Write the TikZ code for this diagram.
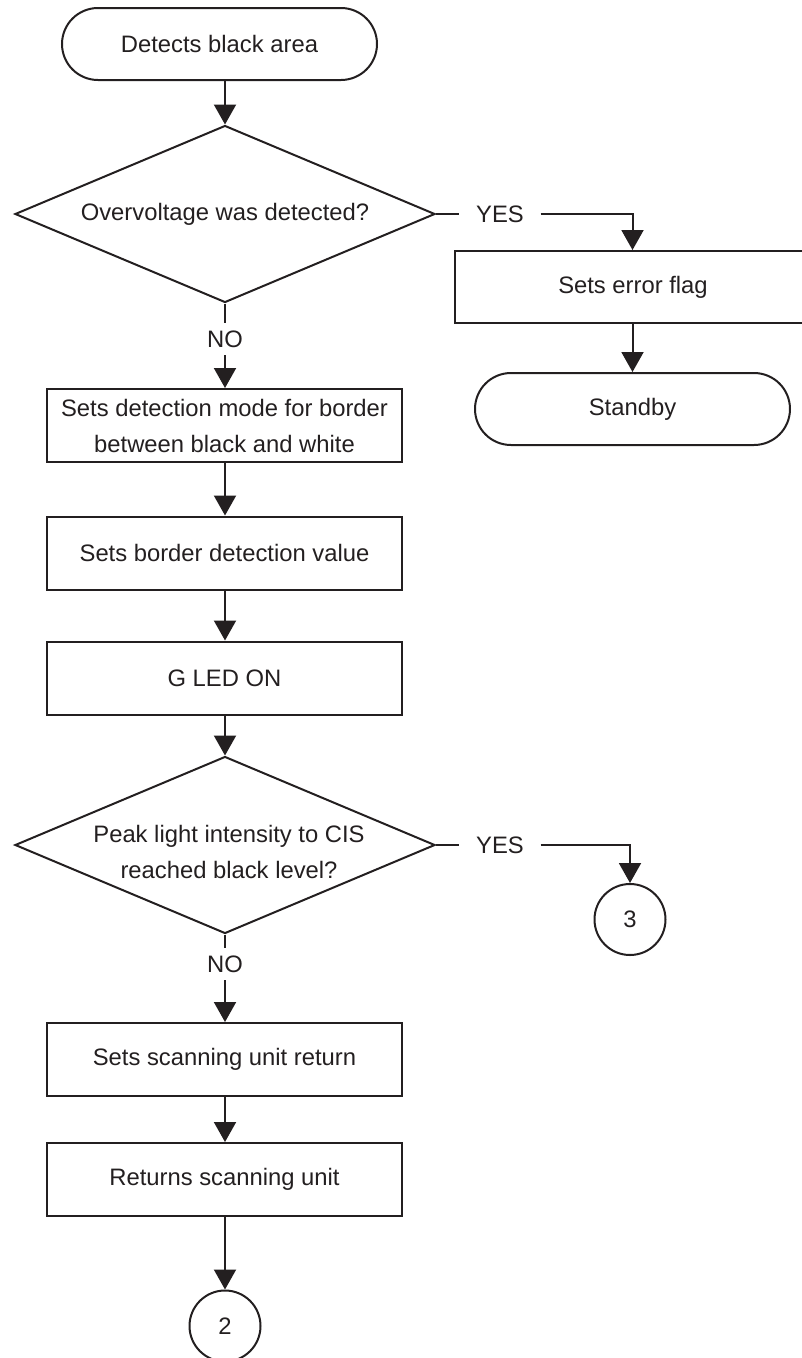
\documentclass[tikz,border=0pt]{standalone}
\usepackage{fontspec}
\setmainfont{Liberation Sans}
\usetikzlibrary{shapes.geometric,shapes.misc,arrows.meta}
\definecolor{ink}{HTML}{231F20}
\tikzset{
  base/.style={draw=ink, line width=2pt, text=ink, font=\fontsize{23.8}{36}\selectfont, align=center, inner sep=0pt},
  proc/.style={base, rectangle, minimum width=355pt, minimum height=73pt},
  term/.style={base, rounded rectangle, minimum width=315pt, minimum height=72pt},
  decision/.style={base, diamond, aspect=2.386, minimum width=420pt, minimum height=177pt},
  conn/.style={base, circle, minimum size=71pt},
  lbl/.style={text=ink, font=\fontsize{23.8}{36}\selectfont, inner xsep=16.5pt, inner ysep=7.5pt, text height=17pt, text depth=0pt},
  plain/.style={text=ink, font=\fontsize{23.8}{36}\selectfont, align=center, inner sep=0pt},
  arr/.style={draw=ink, line width=2pt, -{Triangle[length=20pt,width=22pt]}},
  ln/.style={draw=ink, line width=2pt}
}
\begin{document}
\begin{tikzpicture}[x=1pt,y=-1pt]
\useasboundingbox (0,0) rectangle (802,1358);
\clip (0,0) rectangle (802,1358);
% nodes
\node[term] (t1) at (219.5,44) {Detects black area};
\node[decision] (d1) at (225,214) {Overvoltage was detected?};
\node[lbl] (yes1) at (500,214) {YES};
\node[proc, minimum width=356pt, minimum height=72pt] (err) at (633,287) {Sets error flag};
\node[term] (sb) at (632.5,409) {Standby};
\node[lbl] (no1) at (225,339) {NO};
\node[proc] (b1) at (224.5,425.5) {Sets detection mode for border\\between black and white};
\node[proc] (b2) at (224.5,553) {Sets border detection value};
\node[proc] (b3) at (224.5,678) {G LED ON};
\node[decision] (d2) at (225,845) {};
\node[plain] (d2t) at (229,852) {Peak light intensity to CIS\\reached black level?};
\node[lbl] (yes2) at (500,845) {YES};
\node[conn] (c3) at (630,919.5) {3};
\node[lbl] (no2) at (225,964) {NO};
\node[proc] (b4) at (224.5,1059.5) {Sets scanning unit return};
\node[proc] (b5) at (224.5,1179.5) {Returns scanning unit};
\node[conn] (c2) at (225,1326) {2};
% connectors
\draw[arr] (t1.south -| d1.north) -- (d1.north);
\draw[ln] (d1.east) -- (yes1.west);
\draw[arr] (yes1.east) -| (sb.north |- err.north);
\draw[arr] (sb.north |- err.south) -- (sb.north);
\draw[ln] (d1.south) -- (no1.north);
\draw[arr] (no1.south) -- (no1.south |- b1.north);
\draw[arr] (b1.south -| no1.south) -- (b2.north -| no1.south);
\draw[arr] (b2.south -| no1.south) -- (b3.north -| no1.south);
\draw[arr] (b3.south -| no1.south) -- (d2.north -| no1.south);
\draw[ln] (d2.east) -- (yes2.west);
\draw[arr] (yes2.east) -| (c3.north);
\draw[ln] (d2.south -| no2.north) -- (no2.north);
\draw[arr] (no2.south) -- (no2.south |- b4.north);
\draw[arr] (b4.south -| no2.south) -- (b5.north -| no2.south);
\draw[arr] (b5.south -| c2.north) -- (c2.north);
\end{tikzpicture}
\end{document}
